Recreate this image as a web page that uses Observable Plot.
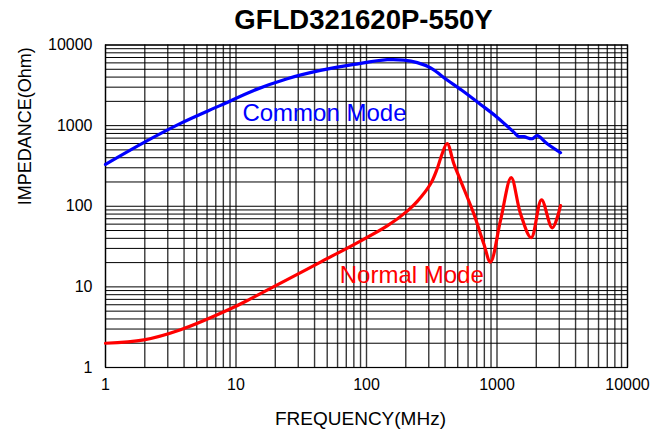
<!DOCTYPE html>
<html><head><meta charset="utf-8">
<script src="https://cdn.jsdelivr.net/npm/d3@7"></script>
<script src="https://cdn.jsdelivr.net/npm/@observablehq/plot@0.6"></script>
<style>body{margin:0;background:#fff} svg{display:block}</style>
</head><body><div id="chart"></div>
<script>
const title = "GFLD321620P-550Y";
const xLabel = "FREQUENCY(MHz)";
const yLabel = "IMPEDANCE(Ohm)";
const majorTicks = [1, 10, 100, 1000, 10000];
const decades = [1, 10, 100, 1000];
const multipliers = [1, 2, 3, 4, 5, 6, 7, 8, 9];

// Common mode impedance (MHz, Ohm)
const commonFreq = [1, 2.09, 3.76, 7.61, 13.7, 24.7, 44.4, 80, 144, 193, 245, 310, 415, 554, 748, 1000, 1345, 1462, 1605, 1862, 2033, 2427, 3068];
const commonZ    = [330, 650, 1065, 1782, 2734, 3820, 4840, 5740, 6570, 6500, 6050, 5200, 3680, 2655, 1833, 1274, 830, 735, 730, 688, 750, 596, 461];

// Normal mode impedance (MHz, Ohm)
const normalFreq = [1, 1.97, 3.76, 9.08, 12.9, 24.7, 44.4, 80, 144, 205, 245, 310, 348, 380, 415, 467, 525, 664, 792, 891, 1064, 1284, 1514, 1828, 2193, 2649, 3068];
const normalZ    = [2.0, 2.2, 2.94, 5.35, 7.1, 12.3, 20.3, 33.5, 57, 87, 115, 190, 292, 448, 600, 337, 209, 80.7, 34.2, 20.3, 66.6, 226, 80.7, 40.7, 120, 54, 102];

const seriesNames = ["Common Mode", "Normal Mode"];
const seriesColors = ["#0000ff", "#ff0000"];
const labelFreq = [11.2, 62.4];
const labelZ = [1406, 13.8];

const gridValues = decades.flatMap(d => multipliers.map(m => d * m)).concat([10000]);
const common = commonFreq.map((f, i) => ({f, z: commonZ[i]}));
const normal = normalFreq.map((f, i) => ({f, z: normalZ[i]}));
const labels = seriesNames.map((name, i) => ({name, f: labelFreq[i], z: labelZ[i], color: seriesColors[i]}));

const chart = Plot.plot({
  width: 653,
  height: 430,
  marginLeft: 105,
  marginRight: 26,
  marginTop: 44.5,
  marginBottom: 63,
  x: {type: "log", domain: [1, 10000]},
  y: {type: "log", domain: [1, 10000]},
  style: {fontFamily: "'Liberation Sans', Arial, sans-serif", background: "#fff", color: "#000"},
  marks: [
    Plot.ruleX(gridValues, {stroke: "#3a3a3a", strokeWidth: 1.4}),
    Plot.ruleY(gridValues, {stroke: "#000", strokeWidth: 1}),
    Plot.frame({stroke: "#000", strokeWidth: 1.2}),
    Plot.axisX({ticks: majorTicks, tickSize: 0, tickPadding: 11, fontSize: 16, tickFormat: d => String(d), label: null}),
    Plot.axisY({ticks: majorTicks, tickSize: 0, tickPadding: 13, fontSize: 16, tickFormat: d => String(d), label: null}),
    Plot.line(common, {x: "f", y: "z", stroke: seriesColors[0], strokeWidth: 3.2, curve: "catmull-rom"}),
    Plot.line(normal, {x: "f", y: "z", stroke: seriesColors[1], strokeWidth: 3.2, curve: "catmull-rom"}),
    Plot.text(labels, {x: "f", y: "z", text: "name", fill: "color", fontSize: 24, textAnchor: "start", lineAnchor: "middle"}),
    Plot.text([title], {frameAnchor: "top", dy: -24.5, dx: -3, fontSize: 27.5, fontWeight: "bold", lineAnchor: "middle"}),
    Plot.text([xLabel], {frameAnchor: "bottom", dy: 51, dx: -6, fontSize: 19, lineAnchor: "middle"}),
    Plot.text([yLabel], {frameAnchor: "left", dx: -80, dy: -1, rotate: -90, fontSize: 18, lineAnchor: "middle"})
  ]
});
document.getElementById("chart").appendChild(chart);
</script>
</body></html>
